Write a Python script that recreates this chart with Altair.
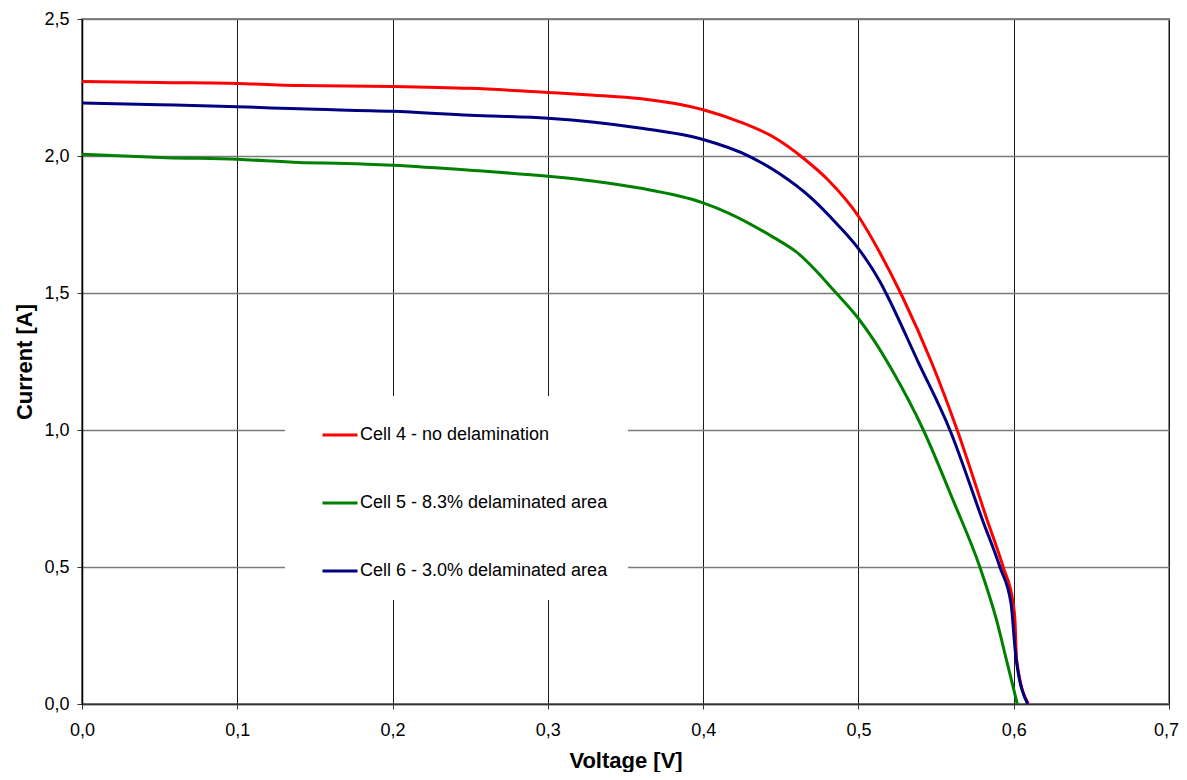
import altair as alt
import pandas as pd

# ---- data ----
series_names = ["Cell 4 - no delamination",
                "Cell 5 - 8.3% delaminated area",
                "Cell 6 - 3.0% delaminated area"]
series_colors = ["#FF0000", "#008000", "#000080"]

cell4_v = [0.0, 0.05, 0.1, 0.14, 0.2, 0.25, 0.3, 0.33, 0.359, 0.4, 0.424, 0.445,
           0.465, 0.48, 0.5, 0.514, 0.528, 0.547, 0.5636, 0.583, 0.5932, 0.5997,
           0.6008, 0.6019, 0.6094]
cell4_i = [2.272, 2.268, 2.265, 2.257, 2.254, 2.247, 2.232, 2.222, 2.21, 2.169, 2.124, 2.07,
           1.99, 1.915, 1.78, 1.645, 1.49, 1.248, 1.0, 0.67, 0.5, 0.366,
           0.305, 0.159, 0.0]

cell5_v = [0.0, 0.0545, 0.1, 0.14, 0.17, 0.2, 0.25, 0.3, 0.33, 0.359, 0.4, 0.417,
           0.445, 0.46, 0.486, 0.5, 0.51, 0.522, 0.5418, 0.561, 0.5782,
           0.589, 0.5954, 0.6023]
cell5_i = [2.006, 1.994, 1.988, 1.976, 1.973, 1.966, 1.948, 1.926, 1.908, 1.883, 1.829, 1.790,
           1.704, 1.650, 1.498, 1.407, 1.327, 1.215, 1.0, 0.743, 0.5,
           0.305, 0.159, 0.0]

cell6_v = [0.0, 0.05, 0.1, 0.14, 0.2, 0.25, 0.3, 0.33, 0.359, 0.4, 0.43, 0.449,
           0.469, 0.486, 0.5, 0.514, 0.5177, 0.5385, 0.5589, 0.58, 0.5911,
           0.5983, 0.6013, 0.609]
cell6_i = [2.193, 2.187, 2.180, 2.172, 2.163, 2.149, 2.138, 2.123, 2.102, 2.060, 1.998, 1.936,
           1.850, 1.753, 1.662, 1.540, 1.5, 1.248, 1.0, 0.67, 0.5,
           0.366, 0.177, 0.0]

x_ticks = [0.0, 0.1, 0.2, 0.3, 0.4, 0.5, 0.6, 0.7]
y_ticks = [0.0, 0.5, 1.0, 1.5, 2.0, 2.5]

rows = []
for name, vs, cs in zip(series_names, [cell4_v, cell5_v, cell6_v], [cell4_i, cell5_i, cell6_i]):
    for k, (v, c) in enumerate(zip(vs, cs)):
        rows.append({"series": name, "voltage": v, "current": c, "order": k})
df = pd.DataFrame(rows)

FONT = "Liberation Sans"
label_expr = "replace(format(datum.value, '.1f'), '.', ',')"

chart = alt.Chart(df).mark_line(strokeWidth=3, interpolate="monotone").encode(
    x=alt.X("voltage:Q",
            scale=alt.Scale(domain=[0, 0.7], nice=False, zero=False),
            axis=alt.Axis(values=x_ticks, labelExpr=label_expr, title="Voltage [V]",
                          grid=True, gridColor="#1a1a1a", gridWidth=1,
                          domainColor="#333333", domainWidth=1.5,
                          tickColor="#333333", tickSize=5, tickWidth=1,
                          labelFlush=False,
                          labelOffset={"condition": {"test": "datum.value > 0.65", "value": -3},
                                       "value": 0},
                          labelBaseline="alphabetic", labelPadding=26,
                          titleBaseline="alphabetic", titleY=63)),
    y=alt.Y("current:Q",
            scale=alt.Scale(domain=[0, 2.5], nice=False, zero=False),
            axis=alt.Axis(values=y_ticks, labelExpr=label_expr, title="Current [A]",
                          grid=True, gridColor="#7a7a7a", gridWidth=1.6,
                          domainColor="#000000", domainWidth=1.5,
                          tickColor="#333333", tickSize=5, tickWidth=1,
                          labelFlush=False, labelPadding=8,
                          titleBaseline="alphabetic", titleX=-51)),
    color=alt.Color("series:N",
                    scale=alt.Scale(domain=series_names, range=series_colors),
                    legend=alt.Legend(title=None, orient="none", legendX=203, legendY=377,
                                      fillColor="white", padding=20, symbolOffset=16,
                                      symbolType="stroke", symbolSize=1225,
                                      symbolStrokeWidth=3, labelOffset=1,
                                      labelFont=FONT, labelFontSize=18, labelColor="#000000",
                                      rowPadding=40, labelLimit=400)),
    order="order:Q",
).properties(
    width=1087, height=685,
    autosize=alt.AutoSizeParams(type="none"),
    padding={"left": 74, "top": 11, "right": 10, "bottom": 68},
).configure_view(
    stroke="#888888", strokeWidth=2
).configure_axis(
    labelFont=FONT, labelFontSize=18, labelColor="#000000",
    titleFont=FONT, titleFontSize=22, titleFontWeight="bold", titleColor="#000000",
)

chart.save("out.html", embed_options={"renderer": "svg", "actions": False})
